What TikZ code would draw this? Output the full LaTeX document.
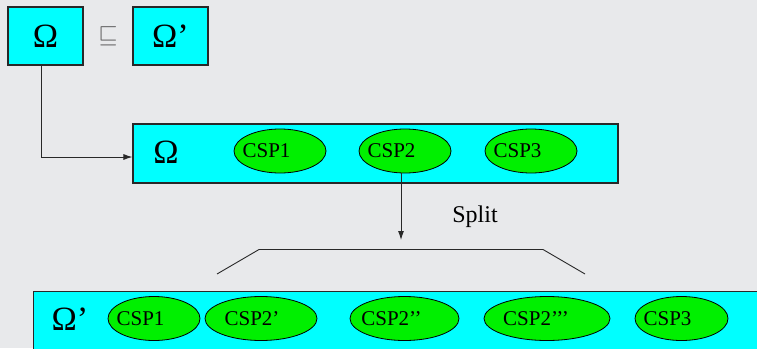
\documentclass[tikz,border=0pt]{standalone}
\usepackage{fontspec}
\usepackage{amssymb}
\setmainfont{Liberation Serif}
\newfontfamily\tms{Liberation Serif}
\usetikzlibrary{shapes.geometric,arrows.meta}
\definecolor{bgray}{RGB}{232,233,235}
\definecolor{boxcyan}{RGB}{0,255,255}
\definecolor{cspgreen}{RGB}{0,240,0}
\definecolor{edgegray}{RGB}{40,40,40}
% ellipse text sits a little left of centre
\newcommand{\lft}[2]{\kern-#1pt #2}
\begin{document}
\begin{tikzpicture}[x=1pt,y=-1pt,
  cbox/.style={draw=edgegray,line width=1.1pt,fill=boxcyan,inner sep=0pt},
  csp/.style={ellipse,draw=black,line width=0.8pt,fill=cspgreen,inner sep=0pt,
    minimum height=44pt,font=\tms\fontsize{21}{24}\selectfont},
  big/.style={font=\tms\fontsize{34}{38}\selectfont},
  conn/.style={draw=edgegray,line width=0.9pt},
  arr/.style={conn,-{Latex[length=9pt,width=6pt]}}]
\useasboundingbox (0,0) rectangle (757,348);
\clip (0,0) rectangle (757,348);
\fill[bgray] (0,0) rectangle (757,348);

% ordering of the two domains
\node[cbox,big,minimum width=75pt,minimum height=58pt] (om) at (45.5,36) {Ω};
\node[cbox,big,minimum width=75pt,minimum height=58pt] (omp) at (170.5,36) {Ω’};
\node[text=edgegray!75,font=\fontsize{30}{32}\selectfont] (sub) at (108,36) {$\sqsubseteq$};

% the domain with its constraint problems
\node[cbox,minimum width=485pt,minimum height=59pt] (box1) at (375.5,153.5) {};
\node[big] (om1) at (166,152) {Ω};
\node[csp,minimum width=92pt] (a1) at (280,151) {\lft{27}{CSP1}};
\node[csp,minimum width=92pt] (a2) at (405,151) {\lft{27}{CSP2}};
\node[csp,minimum width=92pt] (a3) at (531,151) {\lft{27}{CSP3}};

\draw[arr] ([xshift=-4.5pt]om.south) |- ([yshift=-3.5pt]box1.west);

% splitting CSP2
\coordinate (tip) at (401,240);
\draw[arr] (a2.south -| tip) -- (tip);
\node[font=\tms\fontsize{24}{28}\selectfont] (split) at (475,217) {Split};

\coordinate (b1) at (217,274);
\coordinate (b2) at (259,249.5);
\coordinate (b3) at (543,249.5);
\coordinate (b4) at (585,274);
\draw[conn] (b1) -- (b2) -- (b3) -- (b4);

% the refined domain
\node[cbox,anchor=north west,minimum width=760pt,minimum height=80pt] (box2) at (33,291) {};
\node[big] (om2) at (70,319) {Ω’};
\node[csp,minimum width=92pt] (c1) at (154,318.5) {\lft{27}{CSP1}};
\node[csp,minimum width=112pt] (c2) at (261,318.5) {\lft{18}{CSP2’}};
\node[csp,minimum width=109pt] (c3) at (404.5,318.5) {\lft{26}{CSP2’’}};
\node[csp,minimum width=126pt] (c4) at (547,318.5) {\lft{22}{CSP2’’’}};
\node[csp,minimum width=93pt] (c5) at (681.5,318.5) {\lft{28}{CSP3}};
\end{tikzpicture}
\end{document}
